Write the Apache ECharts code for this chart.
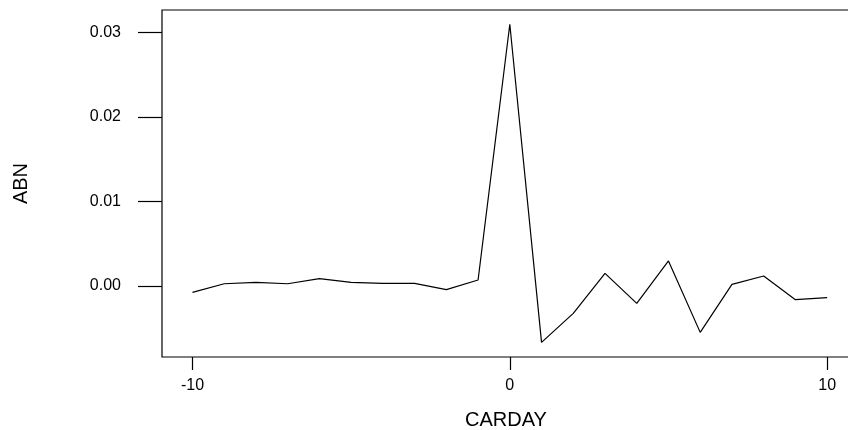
<!DOCTYPE html>
<html>
<head>
<meta charset="utf-8">
<script src="https://cdn.jsdelivr.net/npm/echarts@6/dist/echarts.min.js"></script>
<style>
html,body{margin:0;padding:0;background:#fff;}
#chart{width:848px;height:430px;}
</style>
</head>
<body>
<div id="chart"></div>
<script>
var carday = [-10,-9,-8,-7,-6,-5,-4,-3,-2,-1,0,1,2,3,4,5,6,7,8,9,10];
var abn = [-0.00075,0.00027,0.00043,0.00027,0.00087,0.00043,0.00031,0.00031,-0.00043,0.00071,
           0.03093,-0.00666,-0.00323,0.0015,-0.00205,0.00296,-0.00548,0.0002,0.00118,-0.00162,-0.00138];
var xTicks = [-10, 0, 10];
var yTicks = [0, 0.01, 0.02, 0.03];
var xLabel = 'CARDAY';
var yLabel = 'ABN';

var chart = echarts.init(document.getElementById('chart'), null, {renderer:'canvas'});
var font = 'Liberation Sans, Arial, sans-serif';
chart.setOption({
  animation:false,
  backgroundColor:'#fff',
  grid:{left:162, top:10, width:688, height:347, containLabel:false, outerBoundsMode:'none',
        show:true, borderColor:'#000', borderWidth:1.2, backgroundColor:'transparent'},
  xAxis:{
    type:'value', min:-10.96, max:10.72,
    name:xLabel, nameLocation:'middle', nameGap:53,
    nameTextStyle:{fontFamily:font, fontSize:20, color:'#000'},
    axisLine:{show:false, onZero:false},
    axisTick:{show:true, length:13, lineStyle:{color:'#000', width:1.2}, customValues:xTicks},
    axisLabel:{fontFamily:font, fontSize:16, color:'#000', margin:21, customValues:xTicks, formatter:function(v){return String(v);}},
    splitLine:{show:false}
  },
  yAxis:{
    type:'value', min:-0.00839, max:0.03262,
    name:yLabel, nameLocation:'middle', nameGap:131, nameRotate:90,
    nameTextStyle:{fontFamily:font, fontSize:20, color:'#000'},
    axisLine:{show:false, onZero:false},
    axisTick:{show:true, length:24, lineStyle:{color:'#000', width:1.2}, customValues:yTicks},
    axisLabel:{fontFamily:font, fontSize:16, color:'#000', margin:41, customValues:yTicks, formatter:function(v){return v.toFixed(2);}},
    splitLine:{show:false}
  },
  series:[{
    type:'line',
    data:carday.map(function(d,i){return [d, abn[i]];}),
    showSymbol:false, symbol:'none',
    lineStyle:{color:'#000', width:1.2},
    silent:true
  }]
});
</script>
</body>
</html>
